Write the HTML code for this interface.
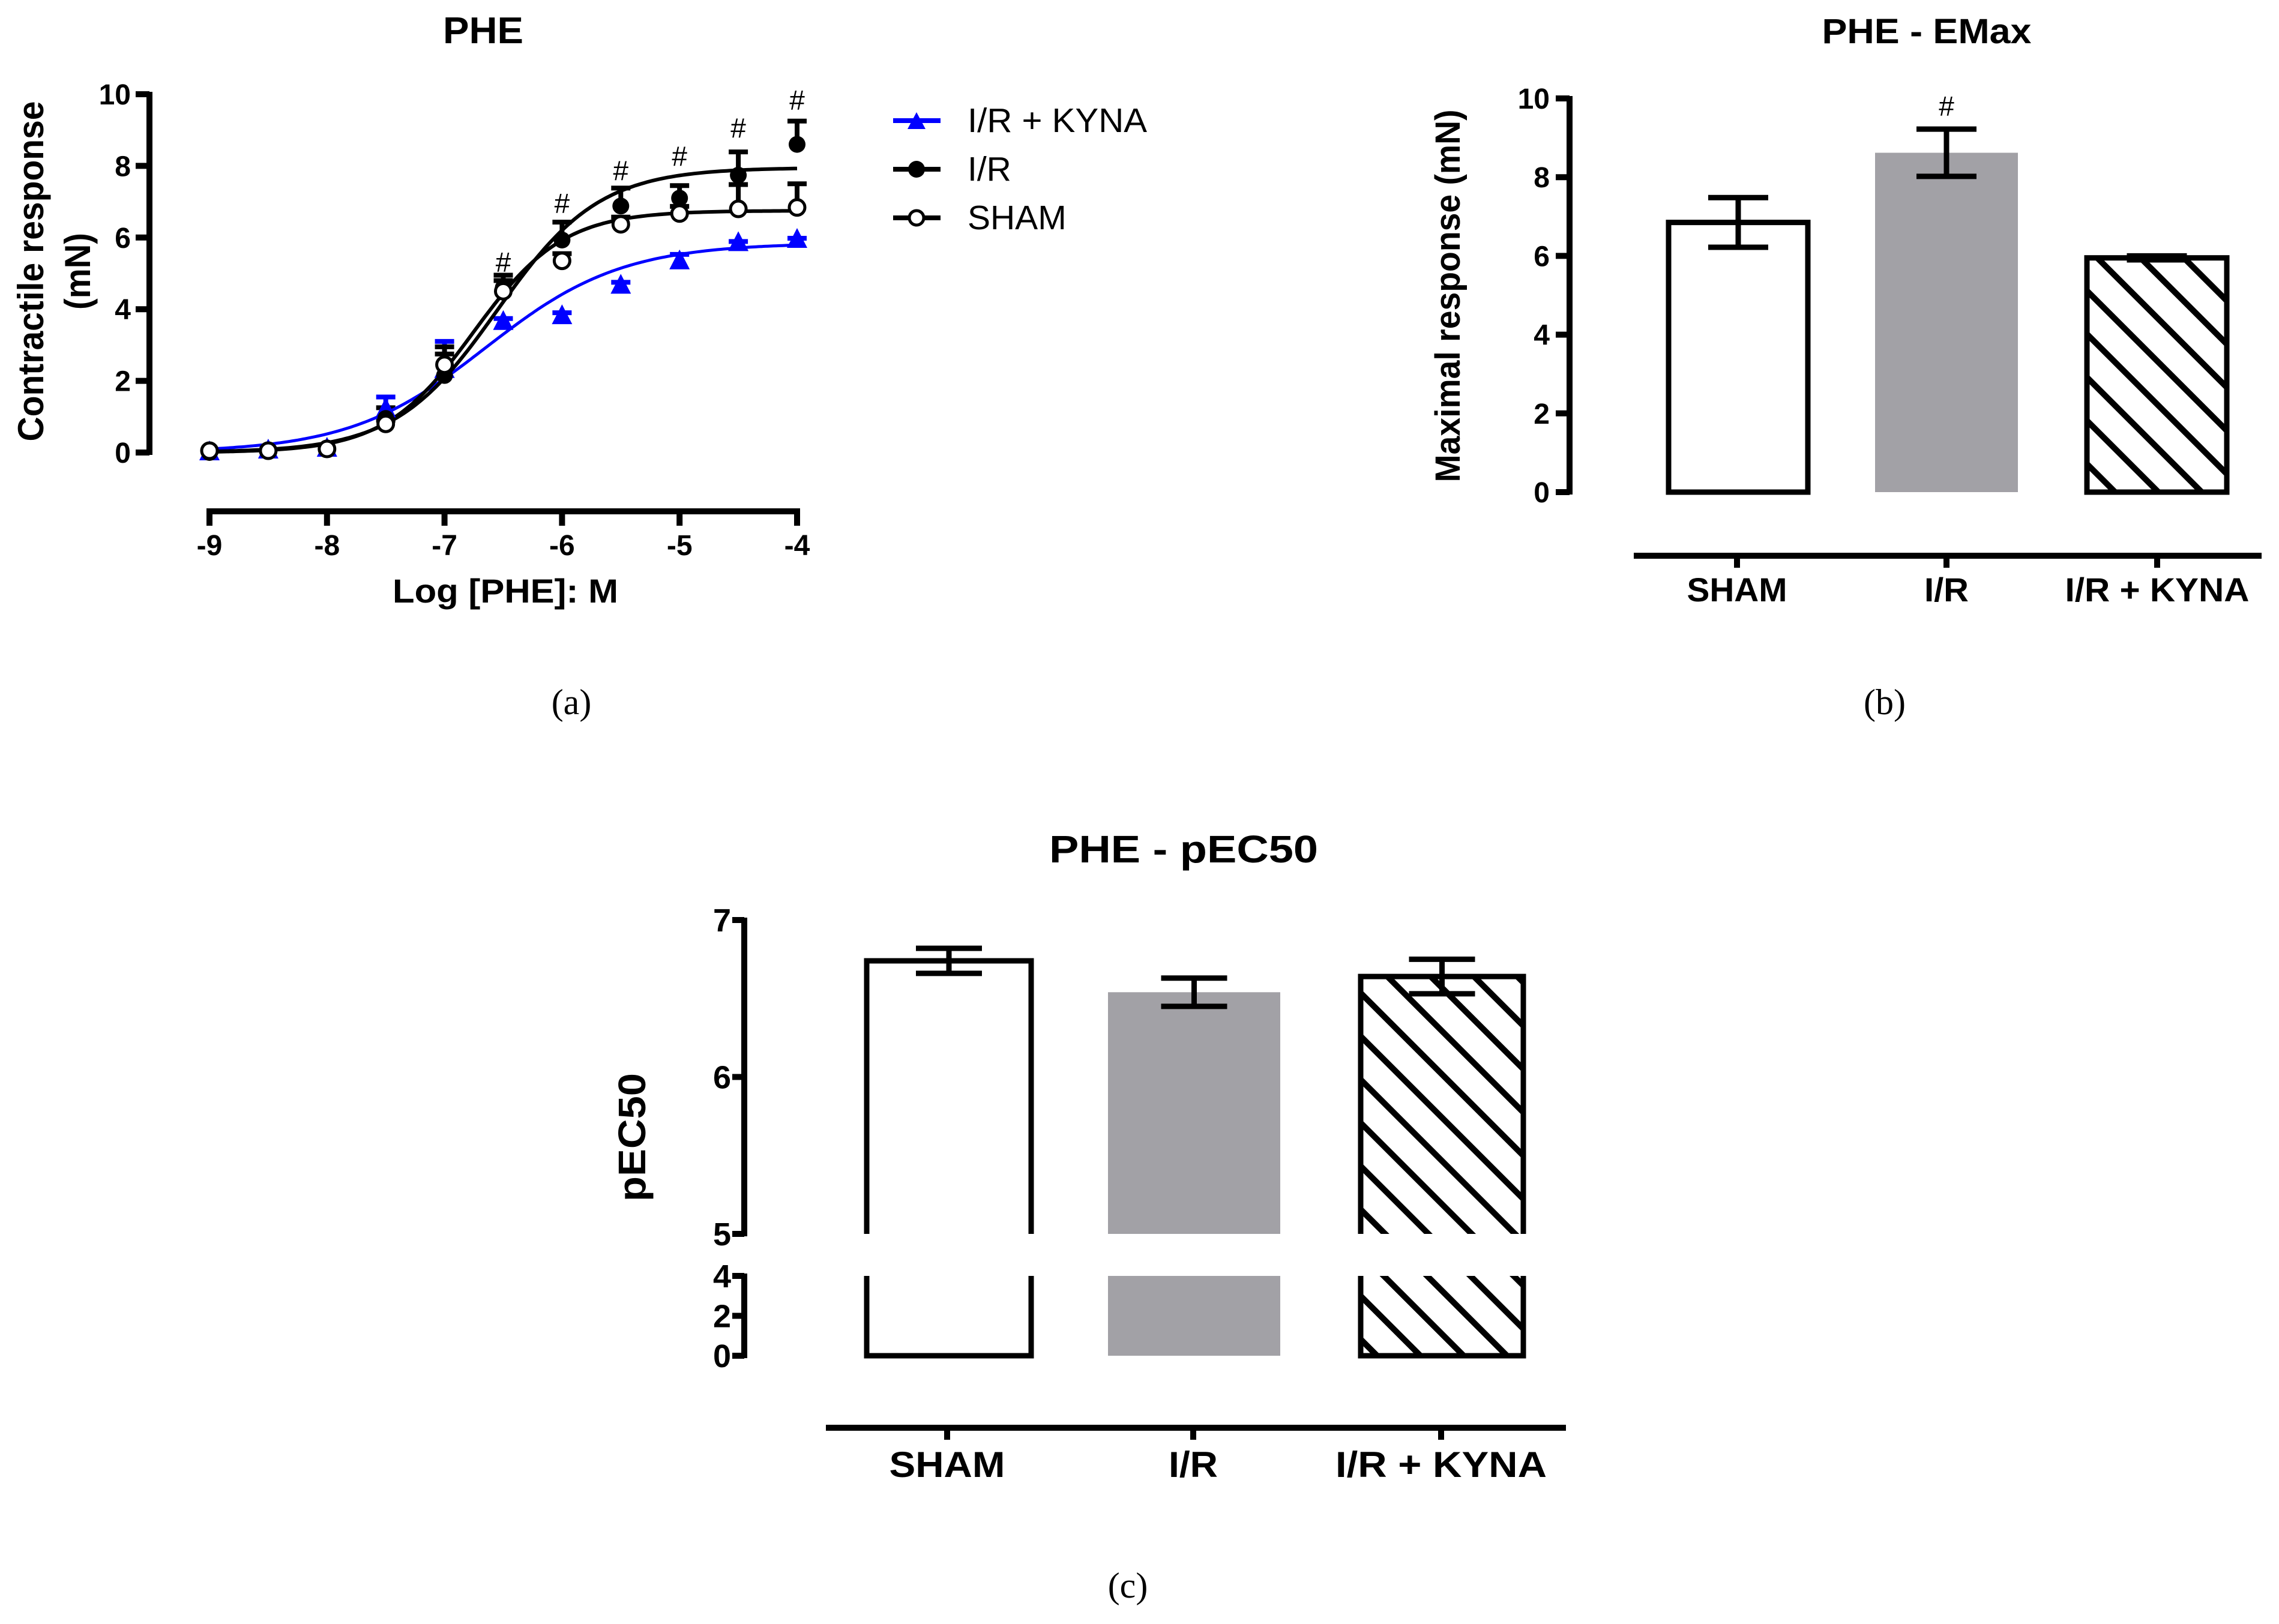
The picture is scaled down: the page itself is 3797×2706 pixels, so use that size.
<!DOCTYPE html>
<html><head><meta charset="utf-8"><style>
html,body{margin:0;padding:0;background:#fff;}
svg{display:block;}
.nb{font-family:"Liberation Sans Narrow","Liberation Sans",sans-serif;font-weight:bold;fill:#000;}
.rg{font-family:"Liberation Sans",sans-serif;fill:#000;}
.sf{font-family:"Liberation Serif",serif;fill:#000;}
</style></head><body>
<svg id="fig" width="3797" height="2706" viewBox="0 0 3797 2706" xmlns="http://www.w3.org/2000/svg">
<defs>
<pattern id="hatchB" patternUnits="userSpaceOnUse" width="51" height="51" patternTransform="rotate(-45)">
<line x1="25" y1="0" x2="25" y2="51" stroke="#000" stroke-width="10"/>
</pattern>
</defs>
<g id="panelA">
<text class="nb" x="805" y="72" font-size="62" text-anchor="middle" textLength="134" lengthAdjust="spacingAndGlyphs">PHE</text>
<text class="nb" transform="translate(72,452) rotate(-90)" font-size="60" text-anchor="middle" textLength="567" lengthAdjust="spacingAndGlyphs">Contractile response</text>
<text class="nb" transform="translate(150,452) rotate(-90)" font-size="60" text-anchor="middle" textLength="128" lengthAdjust="spacingAndGlyphs">(mN)</text>
<text class="nb" x="842" y="1004" font-size="56" text-anchor="middle" textLength="376" lengthAdjust="spacingAndGlyphs">Log [PHE]: M</text>
<g>
<g>
<line x1="1488" y1="201" x2="1567" y2="201" stroke="#0000ff" stroke-width="8"/>
<polygon points="1527,187 1542,215 1512,215" fill="#0000ff"/>
<text class="rg" x="1612" y="220" font-size="57" textLength="299" lengthAdjust="spacingAndGlyphs">I/R + KYNA</text></g>
<g>
<line x1="1488" y1="282" x2="1567" y2="282" stroke="#000" stroke-width="8"/>
<circle cx="1527" cy="282" r="14" fill="#000"/>
<text class="rg" x="1612" y="301" font-size="57">I/R</text></g>
<g>
<line x1="1488" y1="363" x2="1567" y2="363" stroke="#000" stroke-width="8"/>
<circle cx="1527" cy="363" r="12" fill="#fff" stroke="#000" stroke-width="5"/>
<text class="rg" x="1612" y="382" font-size="57">SHAM</text></g>
</g>
</g>
<g id="panelB">
<text class="nb" x="3210" y="72" font-size="58" text-anchor="middle" textLength="349" lengthAdjust="spacingAndGlyphs">PHE - EMax</text>
<text class="nb" transform="translate(2432,493) rotate(-90)" font-size="58" text-anchor="middle" textLength="621" lengthAdjust="spacingAndGlyphs">Maximal response (mN)</text>
</g>
<g id="panelC">
<text class="nb" x="1972" y="1437" font-size="64" text-anchor="middle" textLength="448" lengthAdjust="spacingAndGlyphs">PHE - pEC50</text>
<text class="nb" transform="translate(1075,1895) rotate(-90)" font-size="64" text-anchor="middle" textLength="214" lengthAdjust="spacingAndGlyphs">pEC50</text>
</g>
<text class="sf" x="952" y="1190" font-size="60" text-anchor="middle">(a)</text>
<text class="sf" x="3140" y="1190" font-size="60" text-anchor="middle">(b)</text>
<text class="sf" x="1879" y="2662" font-size="60" text-anchor="middle">(c)</text>
</svg>
<script>
// ---- Panel A data ----
const logDose = [-9,-8.5,-8,-7.5,-7,-6.5,-6,-5.5,-5,-4.5,-4];
const xTicksA = [-9,-8,-7,-6,-5,-4];
const yTicksA = [0,2,4,6,8,10];
const shamMean = [0.05,0.05,0.1,0.8,2.45,4.5,5.35,6.37,6.67,6.8,6.84];
const shamErr  = [0,0,0,0.1,0.3,0.3,0.2,0.2,0.2,0.68,0.66];
const irMean = [0,0.05,0.1,0.95,2.15,4.6,5.93,6.88,7.1,7.74,8.6];
const irErr  = [0,0,0,0.3,0.8,0.35,0.5,0.5,0.35,0.65,0.65];
const kynaMean = [0,0.05,0.1,1.2,2.3,3.64,3.8,4.65,5.33,5.84,5.93];
const kynaErr  = [0,0,0,0.35,0.8,0.1,0.1,0.1,0.2,0.05,0.05];
// sigmoid fit params: [bottom, top, logEC50, hill]
const shamFit = [0,6.75,-6.75,1.14];
const irFit = [0,7.95,-6.55,1.0];
const kynaFit = [0,5.85,-6.65,0.75];
const hashDose = [-6.5,-6,-5.5,-5,-4.5,-4];
const hashVal = [5.33,6.97,7.88,8.28,9.07,9.85];
// ---- Panel B data ----
const groups = ["SHAM","I/R","I/R + KYNA"];
const emaxMean = [6.85,8.62,5.95];
const emaxErr = [0.63,0.6,0.05];
const yTicksB = [0,2,4,6,8,10];
// ---- Panel C data ----
const pecMean = [6.74,6.54,6.64];
const pecErr = [0.08,0.09,0.11];
const yTicksCUpper = [5,6,7];
const yTicksCLower = [0,2,4];

const NS = "http://www.w3.org/2000/svg";
const svg = document.getElementById('fig');
function mk(parent, tag, attrs){const e=document.createElementNS(NS,tag);for(const k in attrs)e.setAttribute(k,attrs[k]);parent.appendChild(e);return e;}
let el;

// ===== Panel A =====
const gA = document.getElementById('panelA');
const xA = v => 349 + (v+9)*(1328-349)/5;
const yA = v => 754 - v*(754-157)/10;
el = mk(gA,'line',{x1:249,y1:yA(10)-4,x2:249,y2:yA(0)+4,stroke:'#000','stroke-width':10});


yTicksA.forEach(t=>{
  el = mk(gA,'line',{x1:226,y1:yA(t),x2:249,y2:yA(t),stroke:'#000','stroke-width':10});
  
  
  el = mk(gA,'text',{x:218,y:yA(t)+17,'font-size':48,'text-anchor':'end',class:'nb'});
  el.textContent = String(t);
  
  
});
el = mk(gA,'line',{x1:xA(-9)-5,y1:852,x2:xA(-4)+5,y2:852,stroke:'#000','stroke-width':10});


xTicksA.forEach(t=>{
  el = mk(gA,'line',{x1:xA(t),y1:852,x2:xA(t),y2:876,stroke:'#000','stroke-width':10});
  
  
  el = mk(gA,'text',{x:xA(t),y:925,'font-size':48,'text-anchor':'middle',class:'nb'});
  el.textContent = String(t);
  
  
});
function sig(p,x){return p[0]+(p[1]-p[0])/(1+Math.pow(10,(p[2]-x)*p[3]));}
function curve(p,color,name,w){
  let d='';for(let i=0;i<=200;i++){const x=-9+5*i/200;d+=(i?'L':'M')+xA(x).toFixed(1)+','+yA(sig(p,x)).toFixed(1);}
  el = mk(gA,'path',{d:d,fill:'none',stroke:color,'stroke-width':w});
  
  
}
function errs(m,e,color,name){
  m.forEach((v,i)=>{ if(e[i]<=0.02) return;
    el = mk(gA,'path',{d:`M${xA(logDose[i])},${yA(v)}V${yA(v+e[i])}M${xA(logDose[i])-16},${yA(v+e[i])}H${xA(logDose[i])+16}`,stroke:color,'stroke-width':8,fill:'none'});
    
    
  });
}
errs(kynaMean,kynaErr,'#0000ff','kyna-error-bar');
errs(shamMean,shamErr,'#000','sham-error-bar');
errs(irMean,irErr,'#000','ir-error-bar');
curve(kynaFit,'#0000ff','kyna-fit-curve',5);
curve(shamFit,'#000','sham-fit-curve',6);
curve(irFit,'#000','ir-fit-curve',6);
kynaMean.forEach((v,i)=>{const x=xA(logDose[i]),y=yA(v);
  el = mk(gA,'polygon',{points:`${x},${y-20} ${x+17},${y+13} ${x-17},${y+13}`,fill:'#0000ff'});
  
  
});
irMean.forEach((v,i)=>{
  el = mk(gA,'circle',{cx:xA(logDose[i]),cy:yA(v),r:14,fill:'#000'});
  
  
});
shamMean.forEach((v,i)=>{
  el = mk(gA,'circle',{cx:xA(logDose[i]),cy:yA(v),r:13,fill:'#fff',stroke:'#000','stroke-width':5});
  
  
});
hashDose.forEach((d,i)=>{
  el = mk(gA,'text',{x:xA(d),y:yA(hashVal[i])+17,'font-size':46,'text-anchor':'middle',class:'rg'});
  el.textContent = '#';
  
  
});

// ===== Bar helper =====
function barFill(g,x0,x1,yt,yb,idx,name){
  const fill = idx===0?'#fff':(idx===1?'#a2a1a6':'url(#hatchB)');
  el = mk(g,'rect',{x:x0,y:yt,width:x1-x0,height:yb-yt,fill:fill});
  
  
}

// ===== Panel B =====
const gB = document.getElementById('panelB');
const yB = v => 820 - v*(820-164)/10;
const barXB = [[2780,3012],[3124,3362],[3477,3710]];
const tickXB = [2894,3243,3594];
el = mk(gB,'line',{x1:2615,y1:yB(10)-4,x2:2615,y2:yB(0)+4,stroke:'#000','stroke-width':10});


yTicksB.forEach(t=>{
  el = mk(gB,'line',{x1:2592,y1:yB(t),x2:2615,y2:yB(t),stroke:'#000','stroke-width':10});
  
  
  el = mk(gB,'text',{x:2582,y:yB(t)+17,'font-size':48,'text-anchor':'end',class:'nb'});
  el.textContent = String(t);
  
  
});
el = mk(gB,'line',{x1:2722,y1:926,x2:3768,y2:926,stroke:'#000','stroke-width':10});


const labWB=[167,74,307];
groups.forEach((gname,i)=>{
  el = mk(gB,'line',{x1:tickXB[i],y1:926,x2:tickXB[i],y2:946,stroke:'#000','stroke-width':10});
  
  
  el = mk(gB,'text',{x:tickXB[i],y:1002,'font-size':56,'text-anchor':'middle',class:'nb',textLength:labWB[i],lengthAdjust:'spacingAndGlyphs'});
  el.textContent = gname;
  
  
  const [x0,x1]=barXB[i];
  barFill(gB,x0,x1,yB(emaxMean[i]),yB(0),i,'emax-bar');
  if(i!==1){
    el = mk(gB,'rect',{x:x0,y:yB(emaxMean[i]),width:x1-x0,height:yB(0)-yB(emaxMean[i]),fill:'none',stroke:'#000','stroke-width':9});
    
    
  }
  const cx=(x0+x1)/2, yt=yB(emaxMean[i]+emaxErr[i]), yb=yB(emaxMean[i]-emaxErr[i]);
  el = mk(gB,'path',{d:`M${cx},${yt}V${yb}M${cx-50},${yt}H${cx+50}M${cx-50},${yb}H${cx+50}`,stroke:'#000','stroke-width':9,fill:'none'});
  
  
});
el = mk(gB,'text',{x:3243,y:yB(emaxMean[1]+emaxErr[1])-22,'font-size':46,'text-anchor':'middle',class:'rg'});
el.textContent='#';



// ===== Panel C =====
const gC = document.getElementById('panelC');
const yCU = v => 2056 - (v-5)*(2056-1533)/2;
const yCL = v => 2259 - v*(2259-2126)/4;
const barXC = [[1444,1718],[1846,2133],[2267,2538]];
const tickXC = [1578,1988,2401];
const axX = 1240;
el = mk(gC,'line',{x1:axX,y1:yCU(7)-4,x2:axX,y2:yCU(5)+4,stroke:'#000','stroke-width':10});


el = mk(gC,'line',{x1:axX,y1:yCL(4)-4,x2:axX,y2:yCL(0)+4,stroke:'#000','stroke-width':10});


yTicksCUpper.forEach(t=>{
  el = mk(gC,'line',{x1:axX-20,y1:yCU(t),x2:axX,y2:yCU(t),stroke:'#000','stroke-width':10});
  
  
  el = mk(gC,'text',{x:axX-22,y:yCU(t)+19,'font-size':54,'text-anchor':'end',class:'nb'});
  el.textContent=String(t);
  
  
});
yTicksCLower.forEach(t=>{
  el = mk(gC,'line',{x1:axX-20,y1:yCL(t),x2:axX,y2:yCL(t),stroke:'#000','stroke-width':10});
  
  
  el = mk(gC,'text',{x:axX-22,y:yCL(t)+19,'font-size':54,'text-anchor':'end',class:'nb'});
  el.textContent=String(t);
  
  
});
el = mk(gC,'line',{x1:1376,y1:2379,x2:2609,y2:2379,stroke:'#000','stroke-width':10});


const labWC=[193,82,352];
groups.forEach((gname,i)=>{
  el = mk(gC,'line',{x1:tickXC[i],y1:2379,x2:tickXC[i],y2:2399,stroke:'#000','stroke-width':10});
  
  
  el = mk(gC,'text',{x:tickXC[i],y:2461,'font-size':60,'text-anchor':'middle',class:'nb',textLength:labWC[i],lengthAdjust:'spacingAndGlyphs'});
  el.textContent=gname;
  
  
  const [x0,x1]=barXC[i];
  const yt=yCU(pecMean[i]);
  barFill(gC,x0,x1,yt,yCU(5),i,'pec50-bar-upper');
  barFill(gC,x0,x1,yCL(4),yCL(0),i,'pec50-bar-lower');
  if(i!==1){
    el = mk(gC,'path',{d:`M${x0},${yCU(5)}V${yt}H${x1}V${yCU(5)}`,fill:'none',stroke:'#000','stroke-width':9});
    
    
    el = mk(gC,'path',{d:`M${x0},${yCL(4)}V${yCL(0)}H${x1}V${yCL(4)}`,fill:'none',stroke:'#000','stroke-width':9});
    
    
  }
  const cx=(x0+x1)/2, et=yCU(pecMean[i]+pecErr[i]), eb=yCU(pecMean[i]-pecErr[i]);
  el = mk(gC,'path',{d:`M${cx},${et}V${eb}M${cx-55},${et}H${cx+55}M${cx-55},${eb}H${cx+55}`,stroke:'#000','stroke-width':9,fill:'none'});
  
  
});
</script>
</body></html>
